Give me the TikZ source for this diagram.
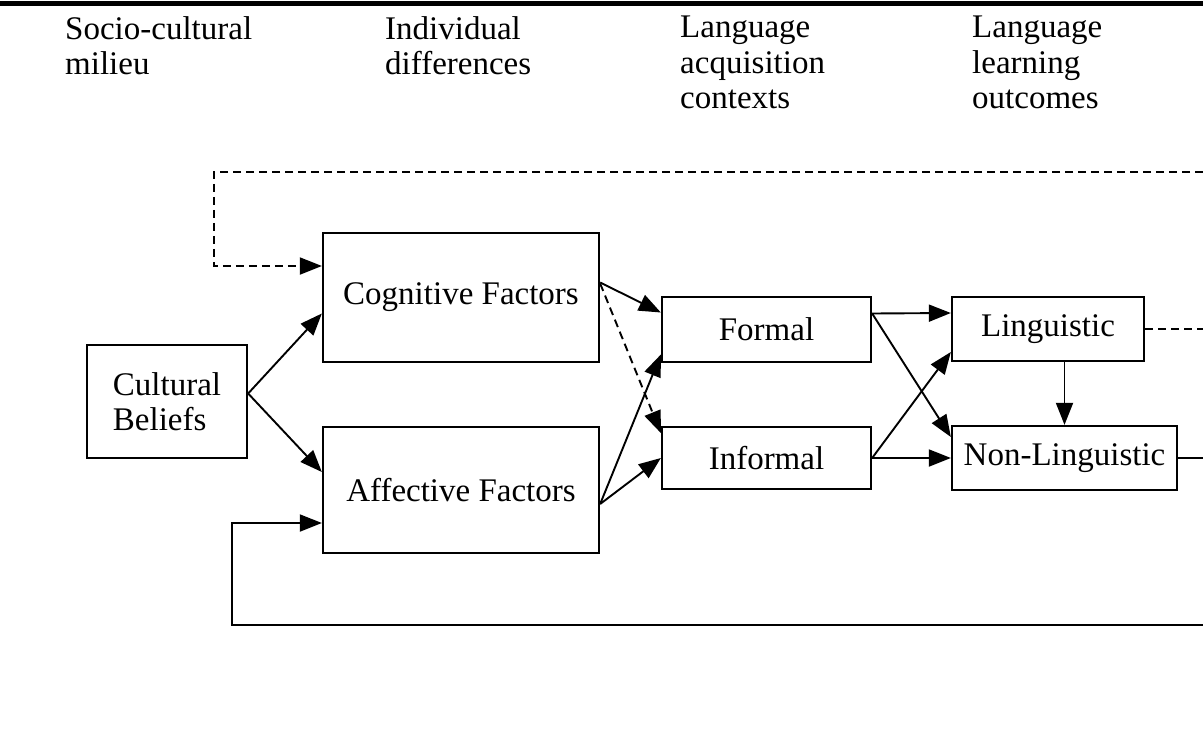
\documentclass[tikz,border=0pt]{standalone}
\usepackage{fontspec}
\setmainfont{Liberation Serif}
\usetikzlibrary{arrows.meta, positioning, calc}

\begin{document}
\begin{tikzpicture}[
  x=1pt, y=-1pt,
  every node/.style={font=\fontsize{33}{35.5}\selectfont, inner sep=0pt},
  factorbox/.style={rectangle, draw, line width=2.3pt, align=center},
  headnode/.style={anchor=north west, align=left},
  flow/.style={-{Triangle[length=22pt, width=17pt]}, line width=1.9pt},
  feedback/.style={flow, dash pattern=on 8pt off 5pt},
]
\clip (0,0) rectangle (1203,750);
\fill[white] (0,0) rectangle (1203,750);
\draw[line width=5pt] (0,3) -- (1203,3);

\node[headnode] (hsoc) at (65,16) {Socio-cultural\\milieu};
\node[headnode] (hind) at (385,16) {Individual\\differences};
\node[headnode] (hctx) at (680,16) {Language\\acquisition\\contexts};
\node[headnode] (hout) at (972,16) {Language\\learning\\outcomes};

\node[factorbox, align=left, minimum width=160pt, minimum height=113pt] (cult) at (167,401.5) {Cultural\\Beliefs};
\node[factorbox, minimum width=276pt, minimum height=129pt] (cog) at (461,297.5) {Cognitive Factors};
\node[factorbox, minimum width=276pt, minimum height=126pt] (aff) at (461,490) {Affective Factors};
\node[factorbox, minimum width=209pt, minimum height=65pt] (formal) at (766.5,329.5) {Formal};
\node[factorbox, minimum width=209pt, minimum height=62pt] (informal) at (766.5,458) {Informal};
\node[factorbox, minimum width=192pt, minimum height=64pt] (ling) at (1048,329) {Linguistic};
\node[factorbox, minimum width=225pt, minimum height=64pt] (nonling) at (1064.5,458) {Non-Linguistic};

\draw[flow] ([yshift=8pt]cult.east) -- ([yshift=-16pt]cog.west);
\draw[flow] ([yshift=8pt]cult.east) -- ([yshift=18pt]aff.west);
\draw[flow] ([yshift=15pt]cog.east) -- ([yshift=17pt]formal.west);
\draw[feedback] ([yshift=14pt]cog.east) -- ([yshift=25pt]informal.west);
\draw[flow] ([yshift=-14pt]aff.east) -- ([yshift=-25pt]formal.west);
\draw[flow] ([yshift=-14pt]aff.east) -- (informal.west);
\draw[flow] ([yshift=16pt]formal.east) -- ([yshift=16pt]ling.west);
\draw[flow] ([yshift=16pt]formal.east) -- ([yshift=21pt]nonling.west);
\draw[flow] (informal.east) -- (nonling.west);
\draw[flow] (informal.east) -- ([yshift=-23pt]ling.west);
\draw[flow] (nonling.north |- ling.south) -- (nonling.north);
\draw[feedback] (ling.east) -- ++(100,0) |- (214,172) |- ([yshift=31.5pt]cog.west);
\draw[flow] (nonling.east) -- ++(100,0) |- (232,625) |- ([yshift=-33pt]aff.west);
\end{tikzpicture}
\end{document}
